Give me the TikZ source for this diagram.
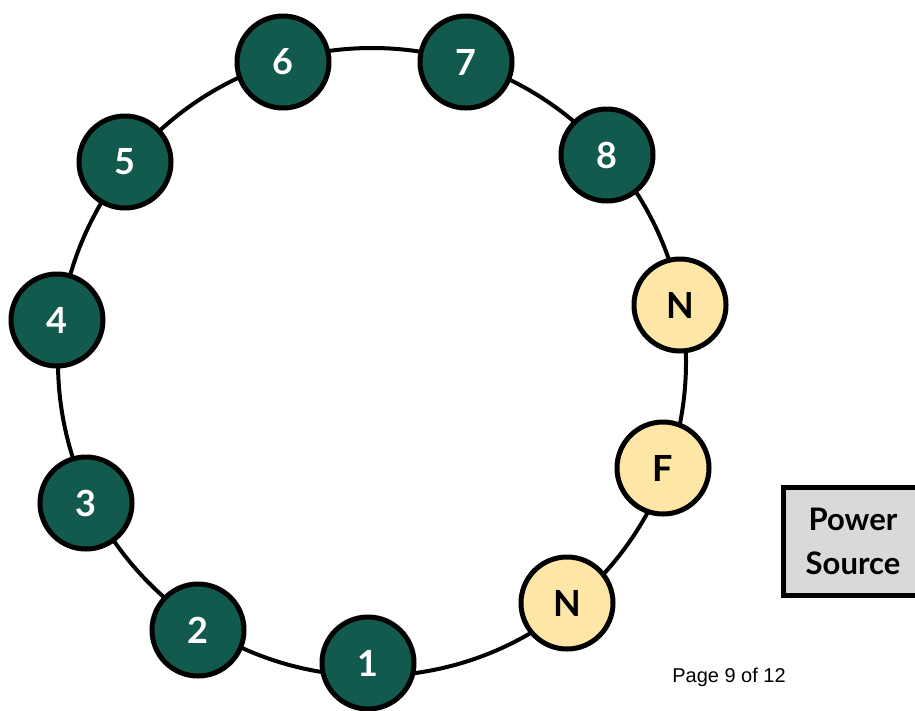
\documentclass[tikz,border=0pt]{standalone}
\usepackage{fontspec}
\setmainfont{Lato}
\newfontfamily\arialfont{Liberation Sans}
\definecolor{ringgreen}{HTML}{135A4E}
\definecolor{ringyellow}{HTML}{FDE6A6}
\definecolor{boxgray}{HTML}{D9D9D9}
\begin{document}
\begin{tikzpicture}[x=1pt,y=-1pt,
  station/.style={circle,draw=black,line width=5pt,minimum size=92pt,inner sep=0pt,
    font=\fontsize{36}{36}\selectfont\bfseries},
  gnode/.style={station,fill=ringgreen,text=white},
  ynode/.style={station,fill=ringyellow,text=black},
  ring/.style={line width=4pt,draw=black}]
\useasboundingbox (0,0) rectangle (915,710);
\draw[ring] (372,362) circle (314pt);
\node[gnode] (n6) at (283,62) {6};
\node[gnode] (n7) at (466,62) {7};
\node[gnode] (n8) at (607,155) {8};
\node[ynode] (na) at (680,305) {N};
\node[ynode] (f) at (663,468) {F};
\node[ynode] (nb) at (567,603) {N};
\node[gnode] (n1) at (368,663) {1};
\node[gnode] (n2) at (198,630) {2};
\node[gnode] (n3) at (86,503) {3};
\node[gnode] (n4) at (57,320) {4};
\node[gnode] (n5) at (125,162) {5};
\node[draw=black,line width=5pt,fill=boxgray,minimum width=150pt,minimum height=108pt,
  align=center,font=\fontsize{31}{44}\selectfont\bfseries,inner sep=0pt] (ps) at (858,541)
  {\hspace*{-10pt}Power\\\hspace*{-10pt}Source};
\node[font=\arialfont\fontsize{20}{20}\selectfont] (pg) at (729,677) {Page 9 of 12};
\end{tikzpicture}
\end{document}
